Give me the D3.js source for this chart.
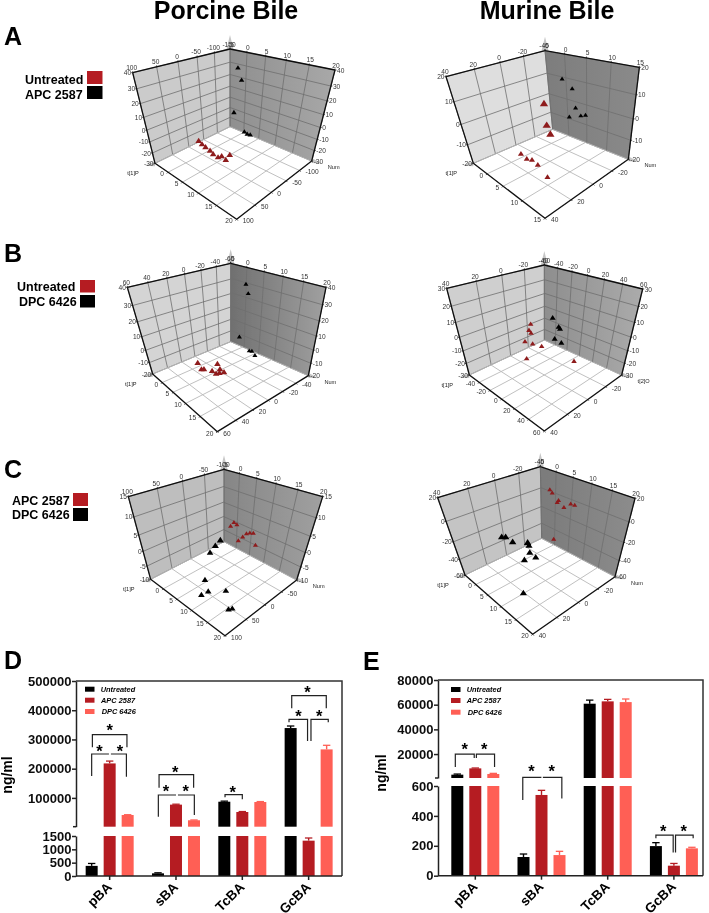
<!DOCTYPE html>
<html><head><meta charset="utf-8"><style>html,body{margin:0;background:#fff}svg{display:block}</style>
<script src="https://cdn.jsdelivr.net/npm/d3@7/dist/d3.min.js"></script></head><body><svg id="c" width="709" height="913"></svg>
<script>
// ---- 3D score plots: each point is [t, num, z]
const porcineA_black=[[-2.5,-150,27.2],[-1.3,-150,18.1],[-3.6,-150,-13.3],[0.2,-150,-28.9],[1.2,-150,-30],[2.2,-150,-29.4]];
const porcineA_red=[[-5.5,-37.7,-30],[-3.6,-32.2,-30],[-1.9,-28.6,-30],[0.1,-25.1,-30],[1.8,-19.1,-30],[3.6,-17.5,-30],[3.9,-26.5,-30],[5.7,-21.7,-30],[4.9,-43.5,-30]];
const murineA_black=[[-1,-40,9.2],[1.5,-40,5.9],[2.2,-40,-3],[0.4,-40,-8.8],[3.5,-40,-6.2],[4.7,-40,-5.1]];
const murineA_red=[[-5,-33.6,-4],[-5,-33.9,-16.1],[-5,-36.9,-22.1],[-1.3,7.5,-20],[1.1,9.2,-20],[2.1,7.4,-20],[4.2,8.8,-20],[8.3,14.2,-20]];
const porcineB_black=[[-0.1,-60,29.2],[0.7,-60,23.3],[-1.8,-60,-12.3],[1.8,-60,-20.7],[2.7,-60,-20],[3.8,-60,-22.6]];
const porcineB_red=[[-1.7,6.9,-20],[2.2,-8.7,-20],[1.5,12.3,-20],[1.9,10.1,-20],[3.9,5.6,-20],[4.6,-3.2,-20],[5.5,5.9,-20],[5.8,2.3,-20],[6.3,-2.3,-20]];
const murineB_black=[[-45.7,-40,-6.9],[-35.3,-40,-12.5],[-33,-40,-13.7],[-41.4,-40,-24.4],[-29.8,-40,-25.4]];
const murineB_red=[[-60,-23.9,-10.1],[-60,-21.7,-14.6],[-60,-23.9,-17.9],[-60,-16.6,-23],[-60,-25.3,-28.3],[-50.3,-30.2,-30],[-40.9,-6.8,-30],[4.2,-30.7,-30]];
const porcineC_red=[[-1.2,-100,-0.4],[-0.1,-100,-0.7],[-2.4,-100,-2.3],[5.6,-100,-1.1],[4.5,-100,-1.6],[3.4,-100,-2.4],[2.2,-100,-4.2],[0.7,-100,-6.5],[6.7,-100,-5]];
const porcineC_black=[[-5,-88,-8.5],[-5,-71.7,-9.8],[-3.7,-46.1,-10],[4.2,26.7,-10],[7.9,45.7,-10],[7.7,61.1,-10],[10.6,21.3,-10],[15.3,53.2,-10],[15.7,47.1,-10]];
const murineC_red=[[-1.9,-40,1.7],[-1.1,-40,-0.6],[1,-40,-5.7],[0.6,-40,-8.3],[4.8,-40,-4.2],[6,-40,-4],[2.8,-40,-10.6],[-0.3,-40,-52.6]];
const murineC_black=[[-5,1.8,-35.2],[-5,-1.8,-37.1],[-5,-7.8,-46.7],[-5,-23.4,-56.4],[-4.6,-23.7,-60],[-1.7,-16.7,-60],[1.1,-15.6,-60],[0,-6.3,-60],[9.8,20.4,-60]];

// ---- bar charts
const categories=['pBA','sBA','TcBA','GcBA'];
const groups=['Untreated','APC 2587','DPC 6426'];
const D_untreated=[380,100,87000,339000], D_untreated_err=[90,20,2000,7000];
const D_apc=[218000,77000,51800,1325], D_apc_err=[8000,1500,1500,100];
const D_dpc=[41500,23500,86000,266000], D_dpc_err=[1000,1000,1500,14000];
const E_untreated=[3300,125,60800,198], E_untreated_err=[500,20,2900,23];
const E_apc=[8400,540,62700,67], E_apc_err=[300,31,1600,15];
const E_dpc=[3850,138,62100,183], E_dpc_err=[500,25,2500,7];
const D_ticksUpper=[100000,200000,300000,400000,500000], D_ticksLower=[0,500,1000,1500];
const E_ticksUpper=[20000,40000,60000,80000], E_ticksLower=[0,200,400,600];
// brackets: category index, then [group offset, value] vertices
const D_brackets=[
 [0,[[-.96,273100],[-.96,316300],[.96,316300],[.96,273100]]],
 [0,[[-1,174900],[-1,250200],[-.04,250200]]],[0,[[.93,172500],[.93,250200],[.07,250200]]],
 [1,[[-.94,134900],[-.94,179400],[.98,179400],[.98,134900]]],
 [1,[[-.98,35700],[-.98,110000],[0,110000]]],[1,[[1.02,41500],[1.02,110000],[.11,110000]]],
 [2,[[-.96,102100],[-.96,111000],[0,111000],[0,95200]]],
 [3,[[-.94,406500],[-.94,449700],[.98,449700],[.98,406500]]],
 [3,[[-1.09,358600],[-1.09,368900],[-.06,368900],[-.06,294700]]],[3,[[1.09,358600],[1.09,368900],[.13,368900],[.13,294700]]]];
const D_stars=[[0,0,340000],[0,-.57,268300],[0,.57,268300],[1,-.04,198900],[1,-.56,130500],[1,.54,130500],[2,-.54,128000],[3,-.06,470000],[3,-.57,388000],[3,.59,388000]];
const E_brackets=[
 [0,[[-1.11,9500],[-1.11,20000],[-.06,20000],[-.06,16800]]],[0,[[1.07,9500],[1.07,20000],[.06,20000],[.06,16800]]],
 [1,[[-1.04,506],[-1.04,1100],[-.04,1100],[-.04,601]]],[1,[[1.13,517],[1.13,1100],[.11,1100],[.11,601]]],
 [3,[[-1,250],[-1,272],[-.04,272],[-.04,156]]],[3,[[1.07,250],[1.07,272],[.09,272],[.09,156]]]];
const E_stars=[[0,-.59,25900],[0,.5,25900],[1,-.56,8400],[1,.57,8400],[3,-.59,317],[3,.54,317]];
const titles=['Porcine Bile','Murine Bile'];

const FONT="'Liberation Sans',Arial,sans-serif";
const RED='#b51f24',DARKRED='#8e1a1c',SALMON='#ff5f55';
const root=d3.select('#c').style('font-family',FONT);
const defs=root.append('defs');
defs.append('filter').attr('id','soft').attr('filterUnits','userSpaceOnUse').attr('x',0).attr('y',0).attr('width',709).attr('height',913)
  .append('feGaussianBlur').attr('stdDeviation',0.4);
const svg=root.append('g').attr('filter','url(#soft)');

function homography(p){
  const [x0,y0]=p[0],[x1,y1]=p[1],[x2,y2]=p[2],[x3,y3]=p[3];
  const dx1=x1-x2,dx2=x3-x2,sx=x0-x1+x2-x3,dy1=y1-y2,dy2=y3-y2,sy=y0-y1+y2-y3,det=dx1*dy2-dx2*dy1;
  const g=(sx*dy2-dx2*sy)/det,h=(dx1*sy-sx*dy1)/det;
  const a=x1-x0+g*x1,b=x3-x0+h*x3,d=y1-y0+g*y1,e=y3-y0+h*y3;
  return (u,v)=>{const w=g*u+h*v+1;return [(a*u+b*v+x0)/w,(d*u+e*v+y0)/w];};
}
function panel3D(o,idx){
  const Z=q=>[o.ox+q[0]/3,o.oy+q[1]/3];
  const bt=Z(o.bt),lt=Z(o.lt),rt=Z(o.rt),lb=Z(o.lb),rb=Z(o.rb),fr=Z(o.fr),bb=Z(o.bb);
  const T=d3.scaleLinear().domain(o.t).range([0,1]);
  const N=d3.scaleLinear().domain(o.m).range([0,1]);
  const V=d3.scaleLinear().domain(o.z).range([1,0]);
  const wL=homography([lt,bt,bb,lb]),wR=homography([bt,rt,rb,bb]),fl=homography([bb,rb,fr,lb]);
  const onL=(n,z)=>wL(1-N(n),V(z)), onR=(t,z)=>wR(T(t),V(z)), onF=(t,n)=>fl(T(t),N(n));
  const g=svg.append('g');
  const tmin=o.t[0],tmax=o.t[1],nmin=o.m[0],nmax=o.m[1],zmin=o.z[0],zmax=o.z[1];
  const tT=d3.range(tmin,tmax+.01,o.tStep),tN=d3.range(nmin,nmax+.01,o.mStep),tZ=d3.range(zmin,zmax+.01,o.zStep);
  const poly=(pts,fill)=>g.append('polygon').attr('points',pts.map(p=>p.join(',')).join(' ')).attr('fill',fill);
  const gid='wr'+idx;
  const lg=defs.append('linearGradient').attr('id',gid);
  lg.append('stop').attr('offset',0).attr('stop-color',o.rightC[0]);
  lg.append('stop').attr('offset',1).attr('stop-color',o.rightC[1]);
  poly([lt,bt,bb,lb],o.leftC);
  poly([bt,rt,rb,bb],`url(#${gid})`);
  const line=(a,b,c,w)=>g.append('line').attr('x1',a[0]).attr('y1',a[1]).attr('x2',b[0]).attr('y2',b[1]).attr('stroke',c).attr('stroke-width',w);
  const G='#6f6f6f',GF='#b9b9b9';
  tZ.forEach(z=>{line(onL(nmax,z),onL(nmin,z),G,.8);line(onR(tmin,z),onR(tmax,z),G,.8);});
  tN.forEach(n=>{line(onL(n,zmin),onL(n,zmax),G,.8);line(onF(tmin,n),onF(tmax,n),GF,.9);});
  tT.forEach(t=>{line(onR(t,zmin),onR(t,zmax),G,.8);line(onF(t,nmin),onF(t,nmax),GF,.9);});
  // cones at axis ends
  poly([[bt[0],bt[1]-14],[bt[0]-3.5,bt[1]],[bt[0]+3.5,bt[1]]],'#c6c6c6');
  poly([[lb[0]-10,lb[1]+2.5],[lb[0],lb[1]-2],[lb[0],lb[1]+3]],'#c6c6c6');
  poly([[rb[0]+10,rb[1]+2.5],[rb[0],rb[1]-3],[rb[0],rb[1]+2]],'#c6c6c6');
  // heavy axes
  const K='#111';
  [[lt,bt],[bt,rt],[lt,lb],[rt,rb],[lb,fr],[rb,fr]].forEach(e=>line(e[0],e[1],K,1.3));
  // ticks and labels
  const lab=(p,dx,dy,s,anchor)=>g.append('text').attr('x',p[0]+dx).attr('y',p[1]+dy).attr('text-anchor',anchor).attr('font-size',6.6).attr('fill','#333').text(s);
  const tick=(p,dx,dy)=>line(p,[p[0]+dx,p[1]+dy],K,.7);
  tN.forEach(n=>{const a=onL(n,zmax);tick(a,0,-1.5);lab(a,-1,-2.5,n,'middle');
    const b=onF(tmax,n);tick(b,1.2,1.2);if(n>nmin)lab(b,o.rOff[0],o.rOff[1],n,'start');});
  tT.forEach(t=>{const a=onR(t,zmax);tick(a,0,-1.5);lab(a,1,-2.5,t,'middle');
    const b=onF(t,nmax);tick(b,-1.2,1.2);if(t>tmin)lab(b,o.lOff[0],o.lOff[1],t,'end');});
  tZ.forEach(z=>{const a=onL(nmax,z);tick(a,-1.5,0);lab(a,-1.5,2.5,z,'end');
    const b=onR(tmax,z);tick(b,1.5,0);lab(b,2,2.5,z,'start');});
  g.append('text').attr('x',lb[0]-22).attr('y',lb[1]+12).attr('text-anchor','middle').attr('font-size',5.6).attr('fill','#222').text(o.tName);
  g.append('text').attr('x',rb[0]+22).attr('y',rb[1]+8).attr('text-anchor','middle').attr('font-size',5.6).attr('fill','#222').text(o.mName);
  // markers
  const tri=s=>`M0,${-s*.48}L${s*.55},${s*.38}L${-s*.55},${s*.38}Z`;
  [[o.black,'#000'],[o.red,DARKRED]].forEach(([data,c])=>{
    g.selectAll(null).data(data).enter().append('path').attr('fill',c)
      .attr('transform',d=>{const p=d[1]===nmin?onR(d[0],d[2]):d[0]===tmin?onL(d[1],d[2]):onF(d[0],d[1]);return `translate(${p[0]},${p[1]})`;})
      .attr('d',d=>tri(d[1]===nmin?o.size[0]:d[0]===tmin?o.size[1]:o.size[2]));
  });
}
const panels=[
 {ox:0,oy:0,bt:[690,147],lt:[398,218],rt:[1005,210],lb:[465,490],rb:[935,483],fr:[710,658],bb:[690,380],t:[-5,20],tStep:5,m:[-150,100],mStep:50,z:[-30,40],zStep:10,tName:'t[1]P',mName:'Num',leftC:'#cbcbcb',rightC:['#8f8f8f','#a8a8a8'],black:porcineA_black,red:porcineA_red,size:[5,6,6],lOff:[-4,4],rOff:[6,4]},
 {ox:360,oy:0,bt:[555,152],lt:[258,230],rt:[838,202],lb:[340,490],rb:[805,478],fr:[555,655],bb:[578,388],t:[-5,15],tStep:5,m:[-40,40],mStep:20,z:[-20,20],zStep:10,tName:'t[1]P',mName:'Num',leftC:'#dedede',rightC:['#7d7d7d','#8a8a8a'],black:murineA_black,red:murineA_red,size:[4.6,7.5,5.5],lOff:[-4,4],rOff:[6,4]},
 {ox:0,oy:230,bt:[692,100],lt:[382,172],rt:[978,172],lb:[458,432],rb:[925,437],fr:[652,605],bb:[692,335],t:[-5,20],tStep:5,m:[-60,60],mStep:20,z:[-20,40],zStep:10,tName:'t[1]P',mName:'Num',leftC:'#d4d4d4',rightC:['#707070','#a0a0a0'],black:porcineB_black,red:porcineB_red,size:[4.6,6,6],lOff:[-4,4],rOff:[6,4]},
 {ox:360,oy:230,bt:[553,105],lt:[260,175],rt:[848,177],lb:[328,435],rb:[785,435],fr:[553,603],bb:[553,330],t:[-60,60],tStep:20,m:[-40,40],mStep:20,z:[-30,30],zStep:10,tName:'t[1]P',mName:'t[2]O',leftC:'#cfcfcf',rightC:['#8e8e8e','#ababab'],black:murineB_black,red:murineB_red,size:[5.5,5,5],lOff:[-4,4],rOff:[6,4]},
 {ox:0,oy:430,bt:[672,118],lt:[385,200],rt:[968,200],lb:[452,448],rb:[890,450],fr:[675,617],bb:[672,335],t:[-5,20],tStep:5,m:[-100,100],mStep:50,z:[-10,15],zStep:5,tName:'t[1]P',mName:'Num',leftC:'#bebebe',rightC:['#868686','#a0a0a0'],black:porcineC_black,red:porcineC_red,size:[4.6,6.5,6],lOff:[-4,4],rOff:[6,4]},
 {ox:360,oy:430,bt:[541,110],lt:[233,203],rt:[825,205],lb:[315,435],rb:[765,440],fr:[518,613],bb:[545,325],t:[-5,20],tStep:5,m:[-40,40],mStep:20,z:[-60,20],zStep:20,tName:'t[1]P',mName:'Num',leftC:'#c4c4c4',rightC:['#7b7b7b','#8c8c8c'],black:murineC_black,red:murineC_red,size:[4.6,6.8,6.5],lOff:[-4,4],rOff:[6,4]}];
panels.forEach(panel3D);

// titles, letters
const txt=(x,y,s,size,extra={})=>{const t=svg.append('text').attr('x',x).attr('y',y).attr('font-size',size).attr('font-weight','bold').text(s);Object.entries(extra).forEach(([k,v])=>t.attr(k,v));return t;};
txt(226,19,titles[0],25,{'text-anchor':'middle'});
txt(547,19,titles[1],25,{'text-anchor':'middle'});
[['A',4,45],['B',4,262],['C',4,478],['D',4,669],['E',363,670]].forEach(d=>txt(d[1],d[2],d[0],25));
// side legends
[[25,84,'Untreated',87,71,15.5,13,RED],[25,99,'APC 2587',87,86,15.5,13,'#000'],
 [17,291,'Untreated',80,280,15,12.5,RED],[19,306,'DPC 6426',80,295,15,12.5,'#000'],
 [12,505,'APC 2587',73,493,15,13,RED],[12,519,'DPC 6426',73,508,15,13,'#000']].forEach(d=>{
  txt(d[0],d[1],d[2],12.5);
  svg.append('rect').attr('x',d[3]).attr('y',d[4]).attr('width',d[5]).attr('height',d[6]).attr('fill',d[7]);
});

function barChart(c){
  const g=svg.append('g');
  const x=d3.scaleBand().domain(categories).range(c.band);
  const low=d3.scaleLinear().domain(c.lowDom).range(c.lowRange);
  const up=d3.scaleLinear().domain(c.upDom).range(c.upRange);
  const y=v=>v<=c.lowDom[1]?low(v):up(v);
  const inner=d3.scaleBand().domain(groups).range([-27,27]);
  const bw=12;
  const colors=['#000',RED,SALMON];
  c.series.forEach((vals,k)=>{
    const col=colors[k],errs=c.errs[k];
    const cx=i=>x(categories[i])+x.bandwidth()/2+inner(groups[k])+inner.bandwidth()/2;
    vals.forEach((v,i)=>{
      const xx=cx(i);
      const top=v+errs[i];
      g.append('line').attr('x1',xx).attr('x2',xx).attr('y1',y(v)).attr('y2',y(top)).attr('stroke',col).attr('stroke-width',1.4);
      g.append('line').attr('x1',xx-3.7).attr('x2',xx+3.7).attr('y1',y(top)).attr('y2',y(top)).attr('stroke',col).attr('stroke-width',1.3);
      g.append('rect').attr('x',xx-bw/2).attr('width',bw).attr('y',low(Math.min(v,c.lowDom[1]))).attr('height',low(0)-low(Math.min(v,c.lowDom[1]))).attr('fill',col);
      if(v>c.upDom[0]) g.append('rect').attr('x',xx-bw/2).attr('width',bw).attr('y',up(v)).attr('height',up(c.upDom[0])-up(v)).attr('fill',col);
    });
  });
  const styleAxis=a=>{a.selectAll('path,line').attr('stroke','#222').attr('stroke-width',1.5);a.selectAll('text').attr('font-size',13).attr('font-weight','bold').attr('fill','#111').attr('font-family',FONT);};
  const ax=c.band[0]+c.axisDx;
  g.append('g').attr('transform',`translate(${ax},0)`).call(d3.axisLeft(up).tickValues(c.upTicks).tickSize(4).tickPadding(.5).tickSizeOuter(0)).call(styleAxis);
  g.append('g').attr('transform',`translate(${ax},0)`).call(d3.axisLeft(low).tickValues(c.lowTicks).tickSize(4).tickPadding(.5).tickSizeOuter(0).tickFormat(d3.format('d'))).call(styleAxis);
  g.selectAll('.tick text').text(function(){return this.textContent.replace(/,/g,'');});
  // small break tick
  g.append('line').attr('x1',ax-3).attr('x2',ax).attr('y1',c.upRange[0]).attr('y2',c.upRange[0]).attr('stroke','#222').attr('stroke-width',1.5);
  // frame
  const top=c.upRange[1],bot=low(0);
  g.append('path').attr('d',`M${ax},${top}H${c.right}V${bot}`).attr('fill','none').attr('stroke','#333').attr('stroke-width',1.5);
  const xa=g.append('g').attr('transform',`translate(0,${bot})`).call(d3.axisBottom(x).tickSize(4).tickSizeOuter(0).tickFormat('')).call(styleAxis);
  xa.select('path').attr('d',`M${ax},0H${c.right}`);
  categories.forEach(cat=>{
    const cx=x(cat)+x.bandwidth()/2;
    txt(0,0,cat,13.5,{'text-anchor':'end',transform:`translate(${cx+3},${bot+12}) rotate(-45)`});
  });
  txt(0,0,'ng/ml',14,{'text-anchor':'middle',transform:`translate(${c.yLab[0]},${c.yLab[1]}) rotate(-90)`});
  const step=18;
  const P=(i,dx)=>x(categories[i])+x.bandwidth()/2+dx*step;
  c.brackets.forEach(([i,pts])=>{
    g.append('path').attr('d',d3.line().x(p=>P(i,p[0])).y(p=>y(p[1]))(pts)).attr('fill','none').attr('stroke','#222').attr('stroke-width',1.2);
  });
  c.stars.forEach(([i,dx,v])=>txt(P(i,dx),y(v)+8.5,'*',16.5,{'text-anchor':'middle','fill':'#000'}));
  groups.forEach((name,k)=>{
    const l=c.legend;
    g.append('rect').attr('x',l.sx).attr('y',l.ys[k]-5).attr('width',9.5).attr('height',5).attr('fill',colors[k]);
    txt(l.tx[k],l.ys[k],name,7.4,{'font-style':'italic'});
  });
}
barChart({band:[76.5,341.8],axisDx:-.5,right:342,lowDom:[0,1500],lowRange:[876,836],upDom:[1500,500000],upRange:[826.7,681],lowTicks:D_ticksLower,upTicks:D_ticksUpper,
  series:[D_untreated,D_apc,D_dpc],errs:[D_untreated_err,D_apc_err,D_dpc_err],brackets:D_brackets,stars:D_stars,yLab:[12,775],
  legend:{sx:85,ys:[691.7,702.7,714],tx:[100.7,101,101.7]}});
barChart({band:[442.2,707],axisDx:-4.2,right:703,lowDom:[0,600],lowRange:[875.7,786],upDom:[600,80000],upRange:[778,680],lowTicks:E_ticksLower,upTicks:E_ticksUpper,
  series:[E_untreated,E_apc,E_dpc],errs:[E_untreated_err,E_apc_err,E_dpc_err],brackets:E_brackets,stars:E_stars,yLab:[386,773],
  legend:{sx:451,ys:[692,703,714.7],tx:[466.7,466.7,467.7]}});
</script></body></html>
